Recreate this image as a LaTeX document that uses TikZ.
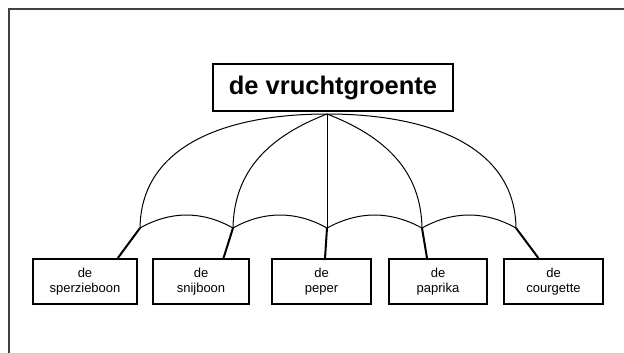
\documentclass[tikz,border=0pt]{standalone}
\usepackage{fontspec}
\setmainfont{Liberation Sans}
\usetikzlibrary{calc}
\tikzset{
  leaf/.style={draw, line width=2pt, inner sep=0pt, minimum height=45pt, align=center,
    font=\fontsize{13}{15.5}\selectfont},
  topbox/.style={draw, line width=2pt, inner sep=0pt, minimum width=240pt, minimum height=47pt,
    font=\fontsize{25.5}{30}\selectfont\bfseries},
  rib/.style={line width=1pt},
  handle/.style={line width=2pt},
  frame/.style={line width=2pt, draw=black!75}
}
\begin{document}
\begin{tikzpicture}[x=1pt,y=-1pt]
\useasboundingbox (0,0) rectangle (624,353);
\draw[frame] (9,353) -- (9,9) -- (624,9);
\node[topbox] (top) at (333,87.5) {de vruchtgroente};
\coordinate (apex) at (327,114);
\coordinate (r1) at (140,228);
\coordinate (r2) at (233,228);
\coordinate (r3) at (327,228);
\coordinate (r4) at (422,228);
\coordinate (r5) at (516,228);
\node[leaf, minimum width=104pt] (b1) at (85,281.5) {de\\sperzieboon};
\node[leaf, minimum width=96pt] (b2) at (201,281.5) {de\\snijboon};
\node[leaf, minimum width=99pt] (b3) at (321.5,281.5) {de\\peper};
\node[leaf, minimum width=98pt] (b4) at (438,281.5) {de\\paprika};
\node[leaf, minimum width=99pt] (b5) at (553.5,281.5) {de\\courgette};
% ribs
\draw[rib] (apex) .. controls (225,114) and (141,146) .. (r1);
\draw[rib] (apex) .. controls (270,136) and (234,170) .. (r2);
\draw[rib] (apex) -- (r3);
\draw[rib] (apex) .. controls (384,136) and (421,170) .. (r4);
\draw[rib] (apex) .. controls (429,114) and (515,146) .. (r5);
% scallops
\draw[rib] (r1) .. controls (171,210.7) and (202,210.7) .. (r2)
  .. controls (264,210.7) and (296,210.7) .. (r3)
  .. controls (359,210.7) and (390,210.7) .. (r4)
  .. controls (453,210.7) and (485,210.7) .. (r5);
% handles
\draw[handle] (r1) -- ($(b1.north west)!0.81!(b1.north east)$);
\draw[handle] (r2) -- ($(b2.north west)!0.73!(b2.north east)$);
\draw[handle] (r3) -- ($(b3.north west)!0.535!(b3.north east)$);
\draw[handle] (r4) -- ($(b4.north west)!0.39!(b4.north east)$);
\draw[handle] (r5) -- ($(b5.north west)!0.35!(b5.north east)$);
\end{tikzpicture}
\end{document}
